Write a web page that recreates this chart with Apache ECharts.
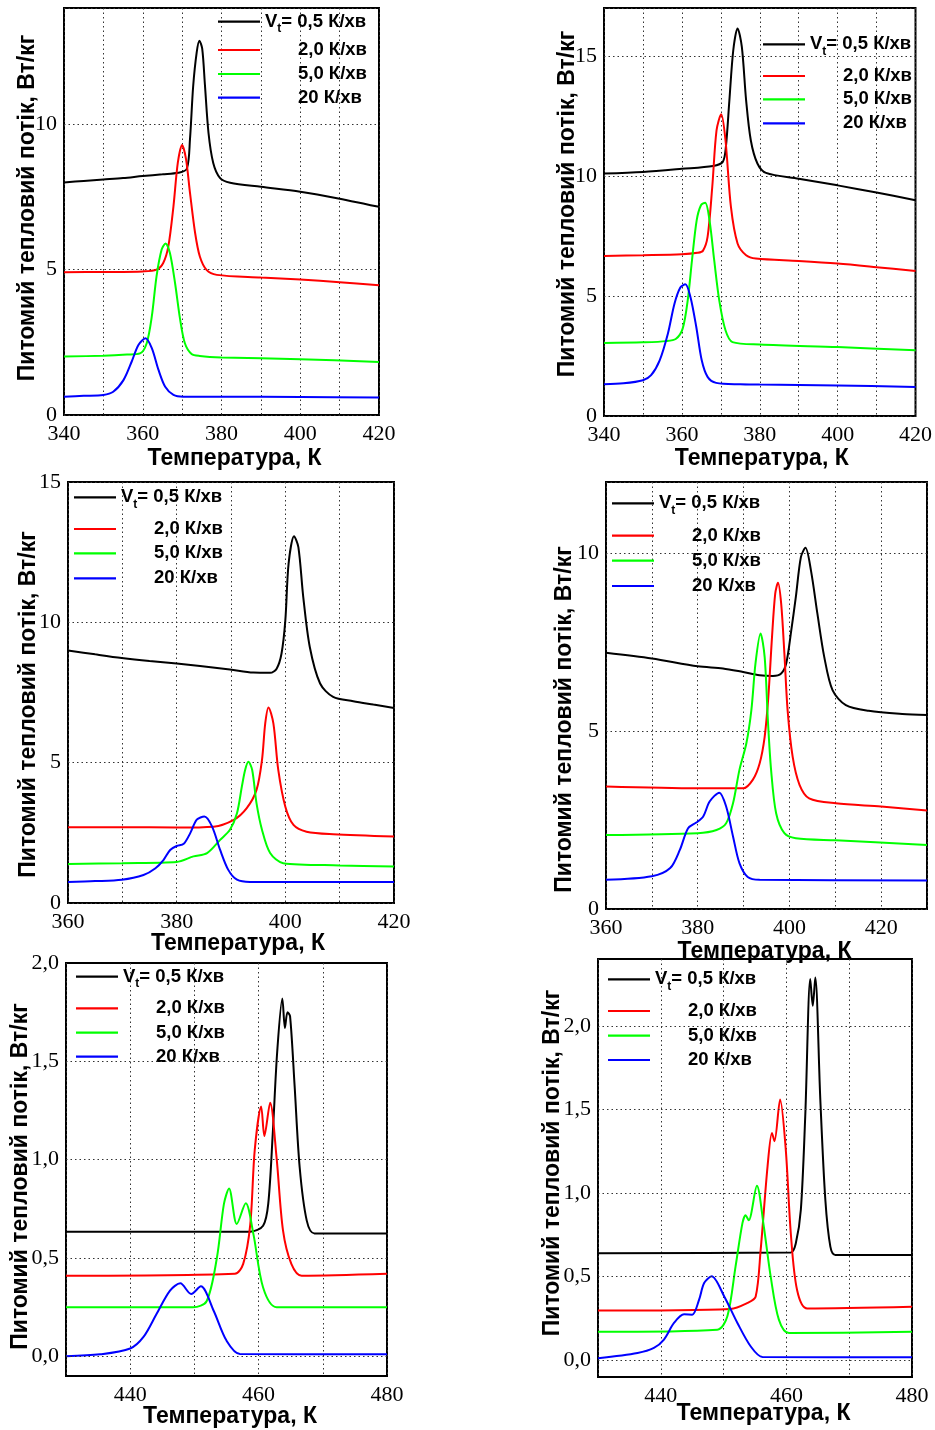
<!DOCTYPE html>
<html><head><meta charset="utf-8">
<script src="https://cdn.jsdelivr.net/npm/echarts@6/dist/echarts.min.js"></script>
<style>html,body{margin:0;padding:0;background:#fff}#c{width:935px;height:1430px}</style>
</head><body><div id="c"></div>
<script>
// ---------- DATA ----------
const seriesNames = ['0,5 К/хв', '2,0 К/хв', '5,0 К/хв', '20 К/хв'];
const xAxisTitle = 'Температура, К';
const yAxisTitle = 'Питомий тепловий потік, Вт/кг';

// Panel 1
const p1_05 = [[340,8.00],[345,8.05],[350,8.10],[355,8.15],[360,8.22],[365,8.28],[369,8.33],[371.2,8.47],[372.0,9.5],[372.8,11.3],[373.7,12.47],[374.4,12.87],[375.1,12.6],[375.8,11.34],[376.7,9.7],[377.9,8.67],[379.6,8.16],[382.2,7.99],[390,7.85],[400,7.68],[410,7.44],[420,7.16]];
const p1_20 = [[340,4.91],[350,4.92],[360,4.94],[363.5,5.0],[365.2,5.23],[366.5,5.8],[367.8,7.18],[368.9,8.67],[370.0,9.29],[371.0,8.79],[372.0,7.64],[373.3,6.26],[374.5,5.45],[376.2,4.99],[378.8,4.82],[390,4.73],[400,4.66],[410,4.57],[420,4.46]];
const p1_50 = [[340,2.01],[350,2.04],[356,2.08],[359.3,2.12],[361.0,2.47],[362.3,3.39],[363.5,4.77],[364.8,5.69],[365.8,5.90],[366.9,5.57],[368.2,4.54],[369.5,3.28],[370.7,2.47],[372.4,2.10],[374.5,2.03],[380,1.98],[400,1.92],[420,1.82]];
const p1_200 = [[340,0.63],[345,0.66],[350,0.69],[352.5,0.80],[355.1,1.20],[357.2,1.84],[358.9,2.41],[360.7,2.64],[362.3,2.30],[364.0,1.55],[365.7,0.97],[367.8,0.69],[370.3,0.63],[380,0.63],[400,0.62],[420,0.60]];

// Panel 2
const p2_05 = [[340,10.10],[350,10.17],[360,10.30],[368,10.42],[370.5,10.59],[371.3,11.21],[372.2,13.15],[373.2,15.24],[374.3,16.15],[375.4,15.38],[376.5,13.15],[377.7,11.49],[379.4,10.52],[381.6,10.13],[390,9.89],[400,9.61],[410,9.31],[420,8.99]];
const p2_20 = [[340,6.67],[350,6.70],[360,6.74],[364,6.80],[365.4,6.88],[366.6,7.46],[367.8,9.54],[368.9,11.9],[370.1,12.57],[371.2,11.49],[372.6,8.71],[374.3,7.19],[376.5,6.70],[379,6.56],[390,6.46],[400,6.35],[410,6.20],[420,6.04]];
const p2_50 = [[340,3.04],[350,3.07],[356,3.12],[358.5,3.22],[360.2,3.64],[361.5,4.82],[362.6,6.49],[363.8,8.15],[364.9,8.78],[366.0,8.89],[367.1,8.15],[368.3,6.49],[369.6,4.82],[371.2,3.57],[373,3.08],[380,2.98],[400,2.87],[420,2.74]];
const p2_200 = [[340,1.32],[345,1.36],[350,1.49],[352.1,1.70],[354.3,2.32],[356.4,3.43],[358.1,4.68],[359.6,5.35],[360.9,5.49],[362.2,4.96],[363.7,3.71],[365.1,2.32],[366.6,1.63],[368.8,1.38],[375,1.32],[380,1.31],[400,1.27],[420,1.21]];

// Panel 3
const p3_05 = [[360,9.0],[365,8.86],[369.9,8.73],[375,8.62],[380,8.53],[384.3,8.44],[389.8,8.32],[394.1,8.21],[397.2,8.2],[398.4,8.35],[399.3,8.89],[400,10.07],[400.6,12.09],[401.6,13.07],[402.4,12.68],[403.3,10.9],[404.5,9.12],[406.4,7.82],[408.8,7.34],[412.5,7.19],[416.2,7.07],[420,6.95]];
const p3_20 = [[360,2.70],[370,2.70],[380,2.69],[386.8,2.72],[390.5,2.96],[392.9,3.38],[394.7,4.03],[395.7,5.09],[396.3,6.40],[396.9,6.97],[397.8,6.40],[398.7,4.74],[400,3.43],[401.5,2.78],[403.9,2.54],[408.8,2.45],[420,2.37]];
const p3_50 = [[360,1.39],[370,1.42],[380,1.46],[383.1,1.66],[385.6,1.78],[388,2.25],[389.8,2.61],[391.1,3.20],[392,4.15],[392.6,4.74],[393.2,5.03],[393.9,4.74],[394.7,3.55],[395.7,2.61],[397.2,1.78],[399.6,1.42],[410,1.34],[420,1.30]];
const p3_200 = [[360,0.75],[365,0.78],[369.9,0.83],[373.9,1.0],[376.1,1.24],[377.6,1.54],[378.8,1.89],[380,2.03],[381.3,2.11],[382.5,2.49],[383.7,2.97],[385.1,3.08],[386.5,2.73],[388,1.89],[389.5,1.18],[391.1,0.83],[393.5,0.75],[420,0.75]];

// Panel 4
const p4_05 = [[360,7.2],[370,7.04],[380,6.82],[385.5,6.76],[389.9,6.66],[393.5,6.57],[396.4,6.55],[398.2,6.62],[399.3,6.9],[400.4,7.83],[401.4,8.77],[402.5,9.89],[403.5,10.15],[404.7,9.51],[406.1,8.30],[407.6,7.08],[409.4,6.15],[412.3,5.73],[417.3,5.57],[424.6,5.48],[430,5.45]];
const p4_20 = [[360,3.44],[380,3.39],[389.9,3.39],[392,3.63],[393.5,4.09],[394.6,4.84],[395.4,5.96],[396.2,7.64],[396.9,8.86],[397.5,9.17],[398.2,8.58],[398.9,7.18],[399.6,5.59],[400.7,4.28],[402.2,3.49],[404.3,3.11],[410.1,2.97],[420,2.88],[430,2.77]];
const p4_50 = [[360,2.08],[380,2.13],[384.1,2.22],[386.2,2.41],[387.7,2.97],[389.1,3.91],[390.6,4.65],[391.7,5.59],[392.6,6.90],[393.7,7.74],[394.6,7.08],[395.3,5.31],[396,3.91],[397.1,2.69],[398.9,2.13],[401.4,1.99],[410.1,1.93],[430,1.80]];
const p4_200 = [[360,0.82],[370,0.92],[374,1.15],[376.1,1.66],[377.9,2.27],[379.7,2.43],[381.2,2.60],[382.6,3.02],[384.7,3.27],[386.2,2.88],[387.7,2.04],[389.1,1.29],[390.9,0.90],[393.5,0.82],[430,0.80]];

// Panel 5
const p5_05 = [[430,0.634],[458.7,0.634],[460.7,0.664],[461.5,0.775],[462.2,1.13],[462.9,1.55],[463.7,1.82],[464.1,1.67],[464.5,1.75],[464.9,1.73],[465.6,1.38],[466.4,0.96],[467.5,0.69],[468.7,0.625],[480,0.625]];
const p5_20 = [[430,0.41],[456.3,0.42],[457.6,0.47],[458.7,0.67],[459.4,1.05],[460.4,1.27],[460.9,1.12],[461.8,1.29],[462.8,1.01],[463.8,0.64],[465.1,0.47],[466.7,0.41],[480,0.42]];
const p5_50 = [[430,0.25],[449.8,0.25],[451.9,0.28],[453.5,0.50],[454.6,0.775],[455.4,0.854],[456.6,0.673],[458,0.778],[459.2,0.62],[460.7,0.35],[462.8,0.25],[480,0.25]];
const p5_200 = [[430,0.0],[435.3,0.01],[440,0.04],[442.1,0.10],[444.1,0.215],[446.2,0.334],[447.8,0.371],[449.5,0.317],[451,0.356],[453,0.232],[455,0.08],[457.1,0.012],[480,0.01]];

// Panel 6
const p6_05 = [[430,0.64],[460.7,0.645],[461.5,0.70],[462.3,0.90],[463,1.46],[463.8,2.28],[464.2,2.12],[464.6,2.29],[465.4,1.56],[466.2,0.96],[467,0.68],[467.8,0.63],[480,0.63]];
const p6_20 = [[430,0.297],[451.1,0.307],[453.8,0.343],[455.1,0.38],[455.9,0.66],[457,1.16],[457.7,1.36],[458.1,1.31],[459,1.56],[459.9,1.26],[460.7,0.76],[461.7,0.42],[463.3,0.31],[480,0.32]];
const p6_50 = [[430,0.17],[449,0.183],[450.6,0.263],[451.9,0.56],[453,0.82],[453.5,0.867],[454,0.837],[455.3,1.044],[456.4,0.80],[457.5,0.50],[458.8,0.243],[460.4,0.163],[480,0.17]];
const p6_200 = [[430,0.012],[436.3,0.044],[438.9,0.074],[440.5,0.124],[442.1,0.223],[443.7,0.275],[445,0.273],[446.1,0.363],[446.9,0.462],[448.1,0.502],[450.1,0.382],[452.2,0.223],[454.3,0.084],[456.2,0.02],[480,0.018]];

// axis ranges / ticks
const xRanges = [[340,420],[340,420],[360,420],[360,430],[430,480],[430,480]];
const yRanges = [[0,14],[0,17],[0,15],[0,12],[-0.1,2.0],[-0.1,2.4]];
const yGridSmall5 = [0, 0.5, 1.0, 1.5];
const yGridSmall6 = [0, 0.5, 1.0, 1.5, 2.0];
const panelData = [
  [p1_05, p1_20, p1_50, p1_200],
  [p2_05, p2_20, p2_50, p2_200],
  [p3_05, p3_20, p3_50, p3_200],
  [p4_05, p4_20, p4_50, p4_200],
  [p5_05, p5_20, p5_50, p5_200],
  [p6_05, p6_20, p6_50, p6_200]
];

// ---------- LAYOUT / STYLE ----------
const colors = ['#000000', '#ff0000', '#00ff00', '#0000ff'];
const layouts = [
  {left:64, top:8, width:315, height:407, xNameGap:32, xNamePad:[0,0,0,26], yNameGap:24.5, yNamePad:[0,0,0,7], legLeft:218, legRows:[21.7,50,74,97.7]},
  {left:604, top:8, width:313, height:408, xNameGap:31, xNamePad:[0,0,0,4], yNameGap:24.5, yNamePad:[0,0,0,16], legLeft:763, legRows:[44.3,76,99.3,123.3]},
  {left:68, top:482, width:326, height:421, xNameGap:29, xNamePad:[0,0,0,14], yNameGap:27.5, yNamePad:[0,24,0,0], legLeft:74, legRows:[497.3,529,553.3,578.3]},
  {left:606, top:482, width:321, height:427, xNameGap:31, xNamePad:[0,4,0,0], yNameGap:29.5, yNamePad:[0,48,0,0], legLeft:612, legRows:[503.3,535.7,560.7,586]},
  {left:66, top:963, width:321, height:413, xNameGap:29, xNamePad:[0,0,0,7], yNameGap:33.5, yNamePad:[0,14,0,0], legLeft:76, legRows:[976.7,1008.3,1032.7,1056.7]},
  {left:598, top:959, width:314, height:418, xNameGap:25, xNamePad:[0,0,0,17], yNameGap:33.5, yNamePad:[0,0,0,10], legLeft:608, legRows:[979.3,1011,1035.7,1060]}
];
const serifFont = '"Liberation Serif", "Times New Roman", serif';
const sansFont = '"Liberation Sans", Arial, sans-serif';
const gridLine = {show:true, lineStyle:{color:'#333', type:[1.5,3], width:1}};
const legFont = 18.5;

const grids = [], xAxes = [], yAxes = [], series = [], legends = [];
layouts.forEach((L, i) => {
  const small = i >= 4;
  grids.push({left:L.left, top:L.top, width:L.width, height:L.height, show:true,
    borderColor:'#000', borderWidth:2, backgroundColor:'transparent', containLabel:false});
  xAxes.push({type:'value', gridIndex:i, min:xRanges[i][0], max:xRanges[i][1], interval:10,
    axisLine:{show:false, onZero:false}, axisTick:{show:false},
    axisLabel:{show:true, margin:8, color:'#000', fontFamily:serifFont, fontSize:22,
      formatter: v => (v % 20 === 0 ? String(v) : '')},
    splitLine: gridLine,
    name:xAxisTitle, nameLocation:'middle', nameGap:L.xNameGap, nameMoveOverlap:false,
    nameTextStyle:{fontFamily:sansFont, fontWeight:'bold', fontSize:23, color:'#000', padding:L.xNamePad}});
  yAxes.push({type:'value', gridIndex:i, min:yRanges[i][0], max:yRanges[i][1], interval: small ? 0.1 : 5,
    axisLine:{show:false, onZero:false}, axisTick:{show:false},
    axisLabel:{show:true, margin:7, color:'#000', fontFamily:serifFont, fontSize:22,
      formatter: small
        ? (v => { const r = Math.round(v * 10); return (r % 5 === 0) ? (r / 10).toFixed(1).replace('.', ',') : ''; })
        : (v => (Math.round(v) % 5 === 0 && Math.abs(v - Math.round(v)) < 1e-9 ? String(v) : ''))},
    splitLine: small ? {show:false} : gridLine,
    name:yAxisTitle, nameLocation:'middle', nameGap:L.yNameGap, nameRotate:90, nameMoveOverlap:false,
    nameTextStyle:{fontFamily:sansFont, fontWeight:'bold', fontSize:23, color:'#000', padding:L.yNamePad}});
  if (small) {
    const g = i === 4 ? yGridSmall5 : yGridSmall6;
    series.push({type:'line', name:'grid' + i, xAxisIndex:i, yAxisIndex:i, data:[], silent:true, z:1,
      markLine:{silent:true, symbol:'none', label:{show:false}, animation:false,
        lineStyle:{color:'#333', type:[1.5,3], width:1},
        data: g.map(v => ({yAxis:v}))}});
  }
  panelData[i].forEach((d, k) => {
    series.push({type:'line', name:seriesNames[k], xAxisIndex:i, yAxisIndex:i, data:d,
      symbol:'none', showSymbol:false, smooth:0.3, z:3,
      lineStyle:{color:colors[k], width:2}, itemStyle:{color:colors[k]}});
  });
  seriesNames.forEach((nm, k) => {
    legends.push({show:true, orient:'horizontal', left:L.legLeft, top:L.legRows[k] - 15, padding:0,
      icon:'rect', itemWidth:42, itemHeight:2.2, selectedMode:false, data:[nm],
      formatter: name => {
        const idx = seriesNames.indexOf(name);
        if (idx === 0) return '{v|V}{t|t}{v|= ' + name + '}';
        return '{pad| }{v|' + name + '}';
      },
      textStyle:{color:'#000', fontFamily:sansFont, fontWeight:'bold', fontSize:legFont,
        rich:{
          v:{fontFamily:sansFont, fontWeight:'bold', fontSize:legFont, color:'#000', height:30, lineHeight:30, verticalAlign:'middle'},
          t:{fontFamily:sansFont, fontWeight:'bold', fontSize:12, color:'#000', lineHeight:16, padding:[14,0,0,0]},
          pad:{width:33, height:30, lineHeight:30}
        }}});
  });
});

const chart = echarts.init(document.getElementById('c'), null, {renderer:'canvas'});
chart.setOption({
  animation:false,
  backgroundColor:'#ffffff',
  grid:grids, xAxis:xAxes, yAxis:yAxes, legend:legends, series:series
});
</script>
</body></html>
